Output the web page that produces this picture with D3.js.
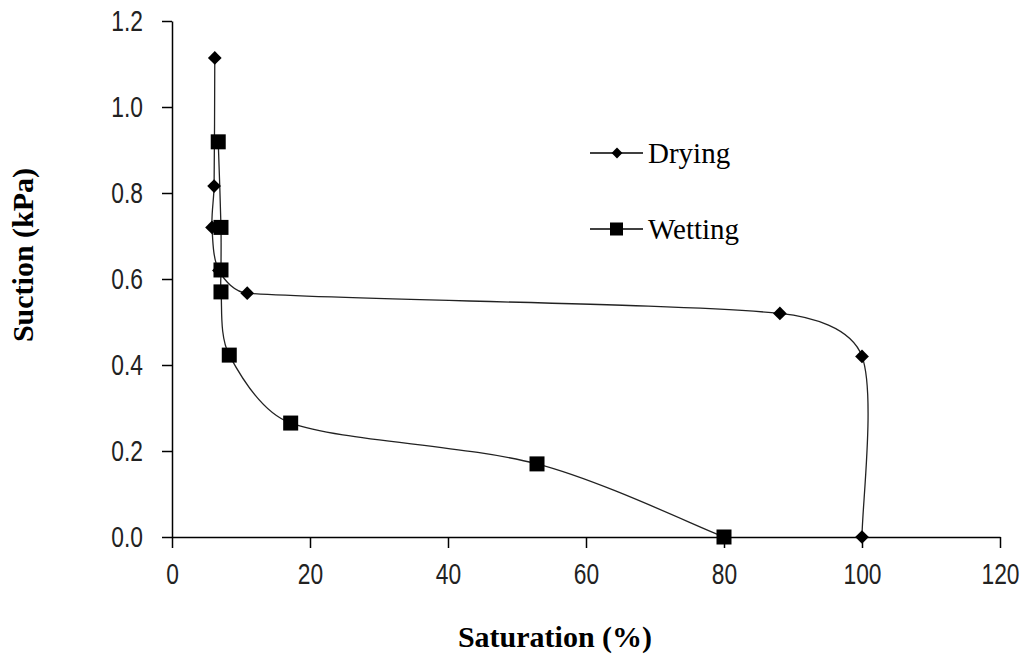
<!DOCTYPE html>
<html>
<head>
<meta charset="utf-8">
<script src="https://cdn.jsdelivr.net/npm/d3@7"></script>
<style>
    body { margin: 0; background: #fff; }
    .tick text { font-family: "Liberation Sans", Arial, sans-serif; font-size: 30px; fill: #222; }
    .axis path, .axis line { stroke: #000; stroke-width: 1.5; }
    .title { font-family: "Liberation Serif", serif; font-weight: bold; font-size: 30px; fill: #000; }
    .legend text { font-family: "Liberation Serif", serif; font-size: 29px; fill: #000; }
</style>
</head>
<body>
<div id="chart"></div>
<script>
// saturation (%) vs suction (kPa)
const drying = [
    [100, 0], [100, 0.42], [88.1, 0.52], [10.9, 0.567],
    [6.8, 0.62], [5.8, 0.72], [6.1, 0.816], [6.2, 1.114]
];
const wetting = [
    [80, 0], [52.9, 0.17], [17.2, 0.265], [8.3, 0.423],
    [7.1, 0.57], [7.1, 0.621], [7.1, 0.72], [6.7, 0.919]
];
const xTicks = [0, 20, 40, 60, 80, 100, 120];
const yTicks = [0, 0.2, 0.4, 0.6, 0.8, 1.0, 1.2];

let width = 1026, height = 657;
let margin = { top: 21, right: 26, bottom: 120, left: 172 };

let svg = d3.select('#chart').append('svg')
    .attr('width', width)
    .attr('height', height);

let x = d3.scaleLinear().domain([0, 120]).range([margin.left, width - margin.right]);
let y = d3.scaleLinear().domain([0, 1.2]).range([height - margin.bottom, margin.top]);

// axes
svg.append('g')
    .attr('class', 'x axis')
    .attr('transform', 'translate(0,' + y(0) + ')')
    .call(d3.axisBottom(x).tickValues(xTicks).tickSize(11).tickSizeOuter(0).tickPadding(15).tickFormat(d3.format('d')));

svg.append('g')
    .attr('class', 'y axis')
    .attr('transform', 'translate(' + x(0) + ',0)')
    .call(d3.axisLeft(y).tickValues(yTicks).tickSize(10).tickSizeOuter(0).tickPadding(19).tickFormat(d3.format('.1f')));

// the original labels are tall and narrow
svg.selectAll('.x.axis .tick text')
    .attr('y', 0).attr('dy', '0.71em')
    .attr('transform', 'translate(0,26) scale(0.76,1)');
svg.selectAll('.y.axis .tick text')
    .attr('x', 0)
    .attr('transform', 'translate(-29,0) scale(0.76,1)');

// spreadsheet-style smoothed line: bezier with tangents (next - prev) / 6,
// capped at a third of the segment length
let smooth = (data) => {
    let pts = data.map(d => [x(d[0]), y(d[1])]);
    let n = pts.length;
    let p = d3.path();
    p.moveTo(pts[0][0], pts[0][1]);
    let tangent = (a, b, len) => {
        let vx = (b[0] - a[0]) / 6, vy = (b[1] - a[1]) / 6;
        let m = Math.hypot(vx, vy);
        if (m > len / 3) {
            vx *= len / 3 / m;
            vy *= len / 3 / m;
        }
        return [vx, vy];
    };
    for (let i = 0; i < n - 1; i++) {
        let p0 = pts[Math.max(i - 1, 0)], p1 = pts[i], p2 = pts[i + 1], p3 = pts[Math.min(i + 2, n - 1)];
        let len = Math.hypot(p2[0] - p1[0], p2[1] - p1[1]);
        let t1 = tangent(p0, p2, len), t2 = tangent(p1, p3, len);
        p.bezierCurveTo(p1[0] + t1[0], p1[1] + t1[1], p2[0] - t2[0], p2[1] - t2[1], p2[0], p2[1]);
    }
    return p.toString();
};

let diamond = d3.symbol().type(d3.symbolDiamond2).size(120);

svg.append('path')
    .attr('d', smooth(drying))
    .attr('fill', 'none')
    .attr('stroke', '#222')
    .attr('stroke-width', 1.3);

svg.append('path')
    .attr('d', smooth(wetting))
    .attr('fill', 'none')
    .attr('stroke', '#222')
    .attr('stroke-width', 1.3);

svg.selectAll('.dry')
    .data(drying)
    .enter()
    .append('path')
    .attr('class', 'dry')
    .attr('transform', d => `translate(${x(d[0])},${y(d[1])})`)
    .attr('d', diamond)
    .attr('fill', '#000');

let sq = 15;
svg.selectAll('.wet')
    .data(wetting)
    .enter()
    .append('rect')
    .attr('class', 'wet')
    .attr('x', d => x(d[0]) - sq / 2)
    .attr('y', d => y(d[1]) - sq / 2)
    .attr('width', sq)
    .attr('height', sq)
    .attr('fill', '#000');

// legend
let legend = svg.append('g').attr('class', 'legend');
legend.append('line').attr('x1', 590).attr('x2', 643).attr('y1', 153).attr('y2', 153).attr('stroke', '#000').attr('stroke-width', 1.5);
legend.append('path').attr('transform', 'translate(617,153)').attr('d', d3.symbol().type(d3.symbolDiamond2).size(75)).attr('fill', '#000');
legend.append('text').attr('x', 648).attr('y', 163).text('Drying');

legend.append('line').attr('x1', 590).attr('x2', 643).attr('y1', 229).attr('y2', 229).attr('stroke', '#000').attr('stroke-width', 1.5);
legend.append('rect').attr('x', 610).attr('y', 222.5).attr('width', 13).attr('height', 13).attr('fill', '#000');
legend.append('text').attr('x', 648).attr('y', 239).text('Wetting');

// axis titles
svg.append('text')
    .attr('class', 'title')
    .attr('x', 555)
    .attr('y', 647)
    .attr('text-anchor', 'middle')
    .text('Saturation (%)');

svg.append('text')
    .attr('class', 'title')
    .attr('transform', 'translate(33,255) rotate(-90)')
    .attr('text-anchor', 'middle')
    .text('Suction (kPa)');
</script>
</body>
</html>
